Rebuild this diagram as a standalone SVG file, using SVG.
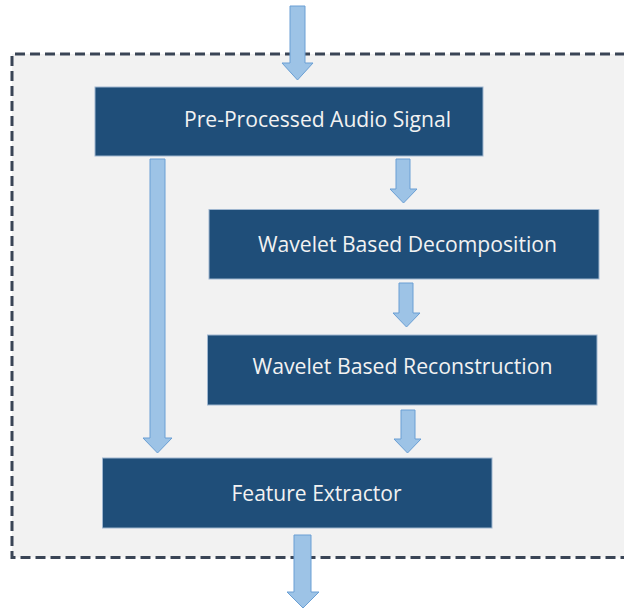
<svg xmlns="http://www.w3.org/2000/svg" width="624" height="610" viewBox="0 0 624 610">
  <style>
    .frame { fill: none; stroke: #3a4556; stroke-width: 3; stroke-dasharray: 10 5; }
    .box { fill: #1f4e79; stroke: #9fb6cf; stroke-width: 1; }
    .label { fill: #f2f2f2; font-family: "Open Sans", "Noto Sans", "Liberation Sans", sans-serif; font-size: 21px; }
    .arrow { fill: #9dc3e6; stroke: #6a9fd4; stroke-width: 1; stroke-linejoin: miter; }
  </style>
  <rect width="624" height="610" fill="#ffffff"/>

  <!-- dashed enclosure, open on the right -->
  <rect x="12" y="54" width="620" height="503.5" fill="#f2f2f2"/>
  <path class="frame" d="M 640 54 L 12 54 L 12 557.5 L 640 557.5"/>

  <g id="connectors">
    <!-- input arrow -->
    <polygon class="arrow" points="290,6 305,6 305,63 313,63 297.5,80 282,63 290,63"/>
    <!-- bypass: pre-processed signal to feature extractor -->
    <polygon class="arrow" points="150,159 165,159 165,438 172,438 157.5,453 143,438 150,438"/>
    <!-- pre-processed to decomposition -->
    <polygon class="arrow" points="396,159 410,159 410,189 417,189 403.5,203 390,189 396,189"/>
    <!-- decomposition to reconstruction -->
    <polygon class="arrow" points="399,283 413,283 413,313 420,313 406.5,327 393,313 399,313"/>
    <!-- reconstruction to feature extractor -->
    <polygon class="arrow" points="401,410 415,410 415,439 421,439 407.5,453 394,439 401,439"/>
    <!-- output arrow -->
    <polygon class="arrow" points="294,535 311,535 311,592 319,592 303,608 287,592 294,592"/>
  </g>

  <g id="pre-processed">
    <rect class="box" x="95" y="87" width="388" height="69"/>
    <text class="label" x="184" y="127" textLength="267" lengthAdjust="spacingAndGlyphs">Pre-Processed Audio Signal</text>
  </g>

  <g id="decomposition">
    <rect class="box" x="209" y="209.5" width="390" height="69.5"/>
    <text class="label" x="258" y="252" textLength="299" lengthAdjust="spacingAndGlyphs">Wavelet Based Decomposition</text>
  </g>

  <g id="reconstruction">
    <rect class="box" x="207.5" y="335" width="389.5" height="70"/>
    <text class="label" x="252.5" y="374" textLength="300" lengthAdjust="spacingAndGlyphs">Wavelet Based Reconstruction</text>
  </g>

  <g id="feature-extractor">
    <rect class="box" x="102.5" y="458" width="389.5" height="70"/>
    <text class="label" x="231.5" y="501" textLength="170" lengthAdjust="spacingAndGlyphs">Feature Extractor</text>
  </g>
</svg>
